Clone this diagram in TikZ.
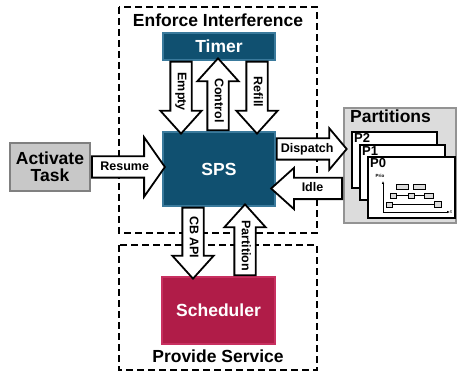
\documentclass[tikz,border=0pt]{standalone}
\usepackage{fontspec}
\setmainfont{Liberation Sans}
\usetikzlibrary{shapes.arrows,arrows.meta}

\definecolor{spsblue}{HTML}{105070}
\definecolor{spsedge}{HTML}{3A7A9C}
\definecolor{schedred}{HTML}{B01C48}
\definecolor{schededge}{HTML}{C83060}
\definecolor{taskgray}{HTML}{C8C8C8}
\definecolor{partgray}{HTML}{DCDCDC}

\tikzset{
	bigfont/.style={font=\fontsize{17.5}{20}\selectfont\bfseries},
	block/.style={draw=spsedge, line width=1.5pt, fill=spsblue, text=white, bigfont},
	flow/.style={shape=single arrow, draw, line width=1.8pt, fill=white,
		font=\fontsize{12.5}{14}\selectfont\bfseries,
		text height=9pt, text depth=2.5pt, inner ysep=4pt, inner xsep=2pt,
		single arrow head extend=10pt, single arrow tip angle=84},
	back/.style={shape border rotate=180},
	area/.style={draw, line width=2.4pt, dash pattern=on 7pt off 4pt},
	card/.style={draw, line width=2pt, fill=white},
	pname/.style={font=\fontsize{13}{13}\selectfont\bfseries, anchor=north west, inner sep=0pt},
	slot/.style={draw, line width=0.6pt, fill=partgray},
}

\begin{document}
\begin{tikzpicture}[x=1pt, y=-1pt]
	\useasboundingbox (0,0) rectangle (458,374);

	% the two areas
	\draw[area] (119,7) rectangle (317,233);
	\draw[area] (119,245) rectangle (317,370);
	\node[bigfont] (enforce) at (218,20) {Enforce Interference};
	\node[bigfont] (provide) at (218,356) {Provide Service};

	% blocks
	\node[block, minimum width=112, minimum height=27] (timer) at (219,46.5) {Timer};
	\node[block, minimum width=112, minimum height=74] (sps) at (219,169) {SPS};
	\node[block, draw=schededge, fill=schedred, minimum width=113, minimum height=67] (sched) at (218.5,310.5) {Scheduler};
	\node[draw=gray, line width=2pt, fill=taskgray, bigfont, align=center,
		minimum width=80, minimum height=48, inner sep=0pt] (task) at (50,167) {Activate\\[-3pt]Task};

	% partitions
	\node[draw=gray!85, line width=2pt, fill=partgray, minimum width=112, minimum height=115] (parts) at (400,165.5) {};
	\node[bigfont, anchor=north west, inner sep=0pt] (partlbl) at (350,110) {Partitions};
	\draw[card] (352,132) rectangle (437,188);
	\draw[card] (360,145) rectangle (445,200);
	\draw[card] (368,157) rectangle (455,218);
	\node[pname] (p2) at (354,133) {P2};
	\node[pname] (p1) at (362,146) {P1};
	\node[pname] (p0) at (370,158) {P0};

	% small schedule inside P0
	\node[font=\fontsize{4.5}{5}\selectfont\bfseries, inner sep=0pt] (prio) at (380,176) {Prio};
	\node[font=\fontsize{4.5}{5}\selectfont\bfseries, inner sep=0pt] (tlbl) at (451,212) {t};
	\coordinate (orig) at (383,212);
	\draw[line width=0.7pt, -{Latex[length=3pt,width=2.5pt]}] (orig) -- (383,181);
	\draw[line width=0.7pt, -{Latex[length=3pt,width=2.5pt]}] (orig) -- (tlbl.west);
	\draw[line width=0.6pt] (389,204.5) -- (437,204.5);
	\draw[line width=0.6pt] (393,195.5) -- (428,195.5);
	\foreach \xa/\ya/\xb/\yb in {386/202/392/207, 434/201/441/207,
		390/193/396/198, 408/193/414/198, 424/193/433/198,
		396/184/408/189, 413/184/425/189}
		\draw[slot] (\xa,\ya) rectangle (\xb,\yb);

	% flows between the blocks
	\node[flow, rotate=-90, anchor=tail, minimum height=72] (empty) at ([xshift=-38pt]timer.south) {Empty};
	\node[flow, back, rotate=-90, anchor=tail, minimum height=72] (control) at ([xshift=-1pt]sps.north) {Control};
	\node[flow, rotate=-90, anchor=tail, minimum height=72] (refill) at ([xshift=38pt]timer.south) {Refill};
	\node[flow, rotate=-90, anchor=tail, minimum height=71] (cbapi) at ([xshift=-26pt]sps.south) {CB API};
	\node[flow, back, rotate=-90, anchor=tail, minimum height=71] (partition) at ([xshift=26.5pt]sched.north) {Partition};
	\node[flow, anchor=tail, minimum height=73, single arrow head extend=19pt, single arrow tip angle=110] (resume) at (task.east) {Resume};
	\node[flow, anchor=tail, minimum height=70, single arrow tip angle=100] (dispatch) at ([yshift=20pt]sps.east) {Dispatch};
	\node[flow, back, anchor=tail, minimum height=71] (idle) at ([yshift=-23pt]parts.west) {Idle};
\end{tikzpicture}
\end{document}
